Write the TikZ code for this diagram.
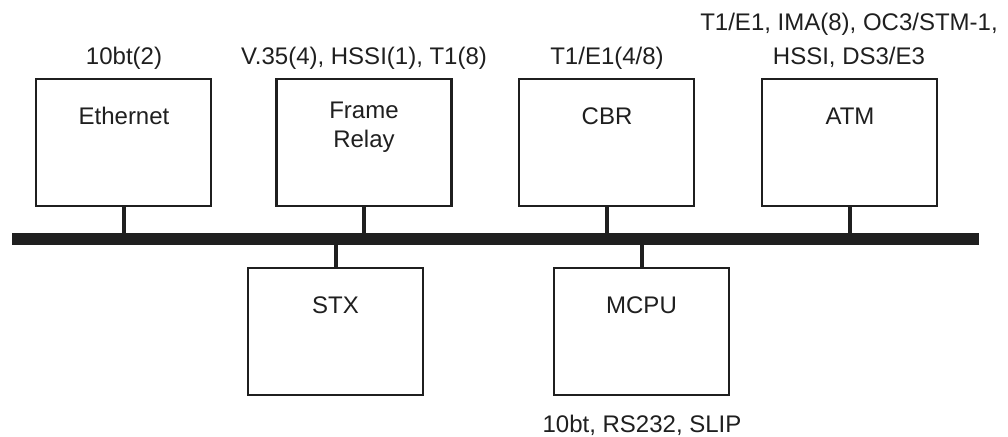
\documentclass[tikz,border=0pt]{standalone}
\usepackage{fontspec}
\setmainfont{Liberation Sans}
\begin{document}
\begin{tikzpicture}[x=1pt,y=-1pt,
  card/.style={draw=black!88,line width=2.2pt,minimum width=175pt,minimum height=127pt,inner sep=0pt,fill=white},
  lbl/.style={font=\fontsize{24}{29}\selectfont,text=black!88,inner sep=0pt,align=center,anchor=base},
  stub/.style={draw=black!88,line width=4pt}]
\useasboundingbox[fill=white] (0,0) rectangle (1008,436);
\node[fill=black!88,minimum width=967pt,minimum height=12pt,inner sep=0pt] (bus) at (495.5,239) {};
\node[card] (eth) at (123.5,142.5) {};
\node[card] (fr) at (364,142.5) {};
\node[card] (cbr) at (606.5,142.5) {};
\node[card] (atm) at (849.5,142.5) {};
\node[card] (stx) at (335.5,331.5) {};
\node[card] (mcpu) at (641.5,331.5) {};
\node[lbl] (teth) at (124,124) {Ethernet};
\node[lbl] (tfr1) at (364,118) {Frame};
\node[lbl] (tfr2) at (364,147) {Relay};
\node[lbl] (tcbr) at (607,124) {CBR};
\node[lbl] (tatm) at (850,124) {ATM};
\node[lbl] (tstx) at (335.5,313) {STX};
\node[lbl] (tmcpu) at (641.5,313) {MCPU};
\node[lbl] (aeth) at (124,64) {10bt(2)};
\node[lbl] (afr) at (364,64) {V.35(4), HSSI(1), T1(8)};
\node[lbl] (acbr) at (607,64) {T1/E1(4/8)};
\node[lbl] (aatm1) at (849,31) {T1/E1, IMA(8), OC3/STM-1,};
\node[lbl] (aatm2) at (849,64) {HSSI, DS3/E3};
\node[lbl] (amcpu) at (642,432) {10bt, RS232, SLIP};
\draw[stub] (eth.south) -- (eth.south |- bus.north);
\draw[stub] (fr.south) -- (fr.south |- bus.north);
\draw[stub] (cbr.south) -- (cbr.south |- bus.north);
\draw[stub] (atm.south) -- (atm.south |- bus.north);
\draw[stub] (stx.north) -- (stx.north |- bus.south);
\draw[stub] (mcpu.north) -- (mcpu.north |- bus.south);
\end{tikzpicture}
\end{document}
